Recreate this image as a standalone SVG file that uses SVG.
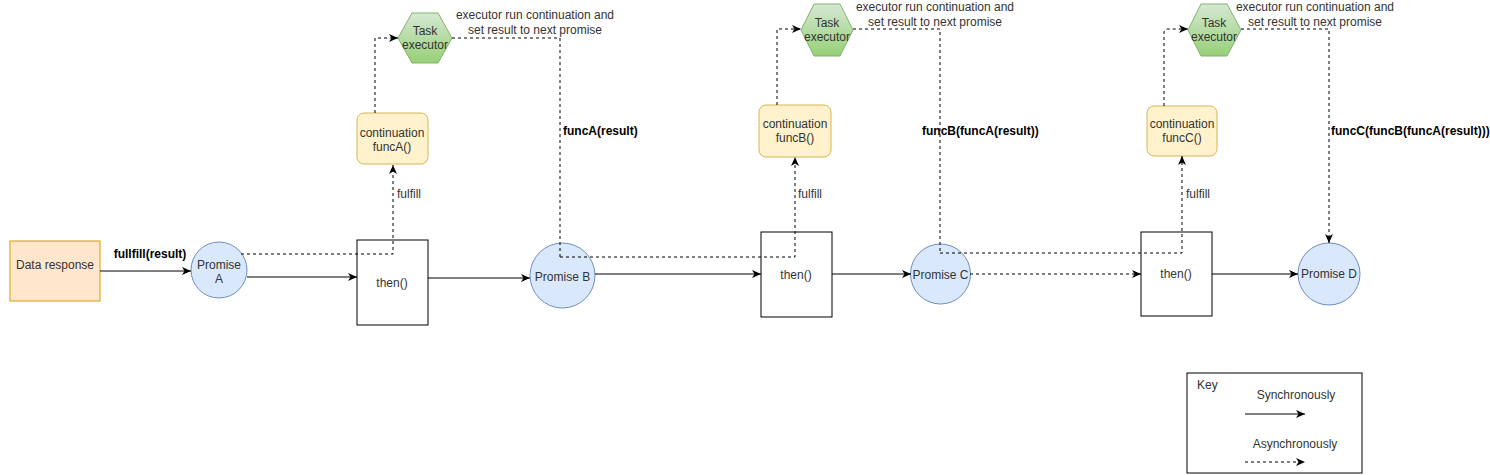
<svg xmlns="http://www.w3.org/2000/svg" width="1490" height="475" viewBox="0 0 1490 475">
<style>
text{font-family:"Liberation Sans",Arial,sans-serif;font-size:12px;fill:#333;}
.c{text-anchor:middle;}
.b{font-weight:bold;fill:#000;}
.promise{fill:#dae8fc;stroke:#6c8ebf;stroke-width:1;}
.then{fill:#fff;stroke:#000;stroke-width:1;}
.cont{fill:#fff2cc;stroke:#d6b656;stroke-width:1;}
.hex{fill:url(#g);stroke:#82b366;stroke-width:1;}
.s{fill:none;stroke:#000;stroke-width:1;marker-end:url(#arr);}
.d{fill:none;stroke:#000;stroke-width:1;stroke-dasharray:3 3;}
.da{fill:none;stroke:#000;stroke-width:1;stroke-dasharray:3 3;marker-end:url(#arr);}
</style>
<defs>
<linearGradient id="g" x1="0" y1="0" x2="0" y2="1">
<stop offset="0" stop-color="#d5e8d4"/>
<stop offset="1" stop-color="#97d077"/>
</linearGradient>
<marker id="arr" viewBox="0 0 10 8" refX="9" refY="4" markerWidth="10" markerHeight="8" markerUnits="userSpaceOnUse" orient="auto">
<path d="M0,0 L9,4 L0,8 L2.5,4 Z" fill="#000"/>
</marker>
</defs>
<rect width="1490" height="475" fill="#fff"/>

<g id="data-response">
<rect x="10" y="241" width="90" height="60" fill="#ffe6cc" stroke="#d79b00"/>
<text class="c" x="55" y="269">Data response</text>
</g>
<g id="promise-a">
<circle class="promise" cx="219" cy="270" r="28"/>
<text class="c" x="219" y="269">Promise</text>
<text class="c" x="219" y="283">A</text>
</g>
<g id="then-a">
<rect class="then" x="357" y="240" width="71" height="85"/>
<text class="c" x="392" y="287">then()</text>
</g>
<g id="cont-a">
<rect class="cont" x="357" y="113" width="71" height="51" rx="7"/>
<text class="c" x="392" y="137">continuation</text>
<text class="c" x="392" y="151">funcA()</text>
</g>
<g id="exec-a">
<polygon class="hex" points="398,38 412,13 438,13 452,38 438,63 412,63"/>
<text class="c" x="425" y="35">Task</text>
<text class="c" x="425" y="49">executor</text>
</g>
<g id="promise-b">
<circle class="promise" cx="562.5" cy="275.5" r="32.5"/>
<text class="c" x="562.5" y="281">Promise B</text>
</g>
<g id="then-b">
<rect class="then" x="761" y="232" width="71" height="85"/>
<text class="c" x="796" y="279">then()</text>
</g>
<g id="cont-b">
<rect class="cont" x="759" y="105" width="72" height="52" rx="7"/>
<text class="c" x="795" y="128">continuation</text>
<text class="c" x="795" y="142">funcB()</text>
</g>
<g id="exec-b">
<polygon class="hex" points="801,30 814,4 840,4 853,30 840,56 814,56"/>
<text class="c" x="827" y="27">Task</text>
<text class="c" x="827" y="41">executor</text>
</g>
<g id="promise-c">
<circle class="promise" cx="940.5" cy="274" r="30"/>
<text class="c" x="940.5" y="279">Promise C</text>
</g>
<g id="then-c">
<rect class="then" x="1141" y="232" width="71" height="84"/>
<text class="c" x="1176" y="278">then()</text>
</g>
<g id="cont-c">
<rect class="cont" x="1147" y="106" width="70" height="50" rx="7"/>
<text class="c" x="1182" y="128">continuation</text>
<text class="c" x="1182" y="142">funcC()</text>
</g>
<g id="exec-c">
<polygon class="hex" points="1188,30 1201,4 1227,4 1241,30 1227,56 1201,56"/>
<text class="c" x="1214" y="27">Task</text>
<text class="c" x="1214" y="41">executor</text>
</g>
<g id="promise-d">
<circle class="promise" cx="1329" cy="274" r="31"/>
<text class="c" x="1329" y="278">Promise D</text>
</g>
<g id="key">
<rect x="1187" y="373" width="175" height="100" fill="#fff" stroke="#000"/>
<text x="1197" y="389">Key</text>
<text class="c" x="1296" y="399">Synchronously</text>
<text class="c" x="1295" y="448">Asynchronously</text>
<path class="s" d="M1245,414 H1305"/>
<path class="da" d="M1245,462 H1305"/>
</g>

<g id="connectors">
<path class="s" d="M100,271 H191"/>
<path class="s" d="M247,277 H357"/>
<path class="da" d="M241,254 H393 V165"/>
<path class="da" d="M375,113 V38 H398"/>
<path class="d" d="M452,38 H560 V257"/>
<path class="s" d="M428,278 H530"/>
<path class="s" d="M595,274 H761"/>
<path class="da" d="M560,257 H795 V157"/>
<path class="da" d="M777,105 V29 H801"/>
<path class="d" d="M853,29 H940 V253"/>
<path class="s" d="M832,274 H911"/>
<path class="da" d="M970,274 H1141"/>
<path class="da" d="M940,253 H1182 V156"/>
<path class="da" d="M1164,106 V33 Q1164,29 1168,29 H1188"/>
<path class="da" d="M1241,29 H1329 V243"/>
<path class="s" d="M1212,274 H1298"/>
</g>

<g id="labels">
<text class="c b" x="150" y="258">fullfill(result)</text>
<text x="397" y="198">fulfill</text>
<text x="798" y="198">fulfill</text>
<text x="1186" y="198">fulfill</text>
<text class="b" x="563" y="135">funcA(result)</text>
<text class="b" x="922" y="135">funcB(funcA(result))</text>
<text class="b" x="1331" y="135">funcC(funcB(funcA(result)))</text>
<text class="c" x="535" y="19">executor run continuation and</text>
<text class="c" x="535" y="34">set result to next promise</text>
<text class="c" x="935" y="11">executor run continuation and</text>
<text class="c" x="935" y="26">set result to next promise</text>
<text class="c" x="1315" y="11">executor run continuation and</text>
<text class="c" x="1315" y="26">set result to next promise</text>
</g>
</svg>
